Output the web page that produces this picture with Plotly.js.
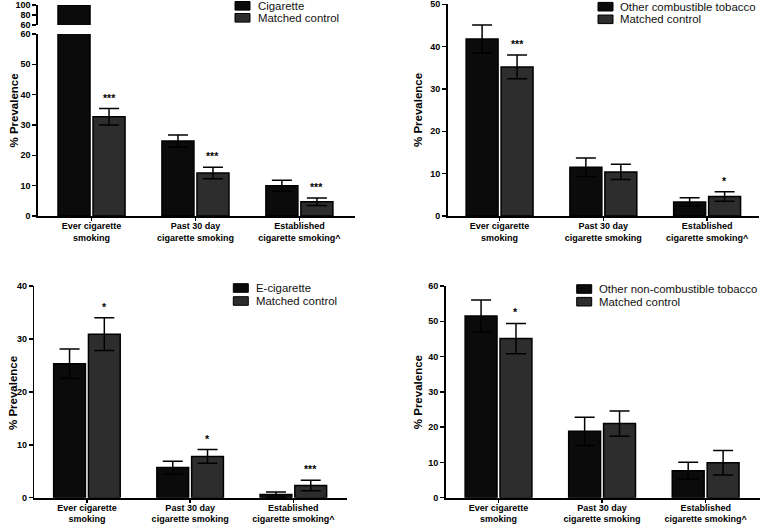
<!DOCTYPE html>
<html>
<head>
<meta charset="utf-8">
<script src="https://cdn.plot.ly/plotly-3.0.1.min.js"></script>
<style>html,body{margin:0;padding:0;background:#fff}</style>
</head>
<body>
<div id="chart" style="width:760px;height:524px"></div>
<script>
// ---- data ----
const categories = ['Ever cigarette<br>smoking', 'Past 30 day<br>cigarette smoking', 'Established<br>cigarette smoking^'];
const controlName = 'Matched control';

const p1Name = 'Cigarette';
const p1Values = [100, 24.7, 10.0];
const p1Err = [0, 2.0, 1.8];
const p1CtrlValues = [32.7, 14.2, 4.7];
const p1CtrlErr = [2.7, 1.9, 1.2];
const p1Sig = ['***', '***', '***'];

const p2Name = 'Other combustible tobacco';
const p2Values = [41.8, 11.5, 3.3];
const p2Err = [3.3, 2.2, 1.0];
const p2CtrlValues = [35.2, 10.4, 4.6];
const p2CtrlErr = [2.8, 1.8, 1.1];
const p2Sig = ['***', '', '*'];

const p3Name = 'E-cigarette';
const p3Values = [25.3, 5.7, 0.6];
const p3Err = [2.8, 1.2, 0.5];
const p3CtrlValues = [30.9, 7.8, 2.3];
const p3CtrlErr = [3.1, 1.3, 1.0];
const p3Sig = ['*', '*', '***'];

const p4Name = 'Other non-combustible tobacco';
const p4Values = [51.5, 18.8, 7.65];
const p4Err = [4.5, 4.0, 2.4];
const p4CtrlValues = [45.1, 21.0, 9.9];
const p4CtrlErr = [4.3, 3.6, 3.5];
const p4Sig = ['*', '', ''];

const yTitle = '% Prevalence';

// ---- styling ----
const W = 760, H = 524;
const FONT = 'Liberation Sans, Arial, Helvetica, sans-serif';
const colTobacco = '#0b0b0b';
const colControl = '#2d2d2d';
const BARGAP = 0.326, BARGROUPGAP = 0.086;
const xIdx = categories.map((c, i) => i);
const px = v => v / W;
const py = v => 1 - v / H;

function barTrace(name, y, err, color, xa, ya) {
  return {
    type: 'bar', name: name, x: xIdx, y: y, xaxis: xa, yaxis: ya,
    marker: {color: color, line: {color: '#000', width: 1.5}},
    error_y: {type: 'data', array: err, visible: true, color: '#000', thickness: 1.5, width: 10},
    showlegend: false, hoverinfo: 'x+y'
  };
}

const traces = [
  barTrace(p1Name, p1Values, p1Err, colTobacco, 'x', 'y'),
  barTrace(controlName, p1CtrlValues, p1CtrlErr, colControl, 'x', 'y'),
  barTrace(p1Name, p1Values, p1Err, colTobacco, 'x', 'y5'),
  barTrace(controlName, p1CtrlValues, p1CtrlErr, colControl, 'x', 'y5'),
  barTrace(p2Name, p2Values, p2Err, colTobacco, 'x2', 'y2'),
  barTrace(controlName, p2CtrlValues, p2CtrlErr, colControl, 'x2', 'y2'),
  barTrace(p3Name, p3Values, p3Err, colTobacco, 'x3', 'y3'),
  barTrace(controlName, p3CtrlValues, p3CtrlErr, colControl, 'x3', 'y3'),
  barTrace(p4Name, p4Values, p4Err, colTobacco, 'x4', 'y4'),
  barTrace(controlName, p4CtrlValues, p4CtrlErr, colControl, 'x4', 'y4')
];

const yTickFont = {family: FONT, size: 9, color: '#000', weight: 'bold'};
const xTickFont = {family: FONT, size: 9, color: '#000', weight: 'bold'};

function xAxis(domain, range, anchor) {
  return {
    domain: domain, range: range, anchor: anchor,
    tickvals: xIdx, ticktext: categories,
    showline: true, linecolor: '#000', linewidth: 2,
    ticks: 'outside', ticklen: 3, tickwidth: 1.5, tickcolor: '#000',
    ticklabelstandoff: -3, ticklabeloverflow: 'allow',
    showgrid: false, zeroline: false, tickfont: xTickFont, fixedrange: true
  };
}
function yAxis(domain, range, dtick, anchor) {
  return {
    domain: domain, range: range, dtick: dtick, tick0: range[0], anchor: anchor,
    showline: true, linecolor: '#000', linewidth: 1.6,
    ticks: 'outside', ticklen: 4, tickwidth: 1.5, tickcolor: '#000',
    ticklabeloverflow: 'allow',
    showgrid: false, zeroline: false, tickfont: yTickFont, fixedrange: true
  };
}

const layout = {
  width: W, height: H,
  margin: {l: 0, r: 0, t: 0, b: 0},
  paper_bgcolor: '#fff', plot_bgcolor: '#fff',
  font: {family: FONT, color: '#000'},
  barmode: 'group', bargap: BARGAP, bargroupgap: BARGROUPGAP,
  showlegend: false,
  xaxis: xAxis([px(38), px(355)], [-0.515, 2.535], 'y'),
  yaxis: yAxis([py(216), py(34)], [0, 60], 10, 'x'),
  yaxis5: Object.assign(yAxis([py(25), py(5)], [60, 100], 20, 'x'), {tickvals: [60, 80, 100]}),
  xaxis2: xAxis([px(447.7), px(759)], [-0.5, 2.5], 'y2'),
  yaxis2: yAxis([py(216), py(4.3)], [0, 50], 10, 'x2'),
  xaxis3: xAxis([px(34.3), px(346.7)], [-0.51, 2.517], 'y3'),
  yaxis3: yAxis([py(497.7), py(286)], [0, 40], 10, 'x3'),
  xaxis4: xAxis([px(445.7), px(759.5)], [-0.51, 2.52], 'y4'),
  yaxis4: yAxis([py(497.7), py(286)], [0, 60], 10, 'x4'),
  annotations: [],
  shapes: []
};

// significance marks above the matched-control bars
const ctrlOffset = (1 - BARGAP) / 4;
function addSig(sig, vals, errs, xa, ya) {
  sig.forEach((s, i) => {
    if (!s) return;
    layout.annotations.push({
      xref: xa, yref: ya, x: i + ctrlOffset, y: vals[i] + errs[i],
      text: s, showarrow: false, yanchor: 'middle', yshift: 11,
      font: {family: FONT, size: 10.5, color: '#000', weight: 'bold'}
    });
  });
}
addSig(p1Sig, p1CtrlValues, p1CtrlErr, 'x', 'y');
addSig(p2Sig, p2CtrlValues, p2CtrlErr, 'x2', 'y2');
addSig(p3Sig, p3CtrlValues, p3CtrlErr, 'x3', 'y3');
addSig(p4Sig, p4CtrlValues, p4CtrlErr, 'x4', 'y4');

// y-axis titles
[[13, 110.5], [418, 110], [13, 393], [417.7, 392.5]].forEach(p => {
  layout.annotations.push({
    xref: 'paper', yref: 'paper', x: px(p[0]), y: py(p[1]),
    text: yTitle, textangle: -90, showarrow: false,
    xanchor: 'center', yanchor: 'middle',
    font: {family: FONT, size: 11.5, color: '#000', weight: 'bold'}
  });
});

// legends
function addLegend(names, colors, boxX, textX, rows) {
  names.forEach((n, k) => {
    const cy = rows[k];
    layout.shapes.push({
      type: 'rect', xref: 'paper', yref: 'paper',
      x0: px(boxX), x1: px(boxX + 15), y0: py(cy + 4.3), y1: py(cy - 4.3),
      fillcolor: colors[k], line: {color: '#000', width: 1}
    });
    layout.annotations.push({
      xref: 'paper', yref: 'paper', x: px(textX), y: py(cy),
      text: n, showarrow: false, xanchor: 'left', yanchor: 'middle',
      font: {family: FONT, size: 11.4, color: '#111'}
    });
  });
}
const legColors = [colTobacco, colControl];
addLegend([p1Name, controlName], legColors, 235, 255.5, [5.8, 17.8]);
addLegend([p2Name, controlName], legColors, 598, 617.5, [6.7, 19.3]);
addLegend([p3Name, controlName], legColors, 233.3, 253.5, [288, 301]);
addLegend([p4Name, controlName], legColors, 576.7, 597, [289, 301.7]);

Plotly.newPlot('chart', traces, layout, {displayModeBar: false, staticPlot: true});
</script>
</body>
</html>
